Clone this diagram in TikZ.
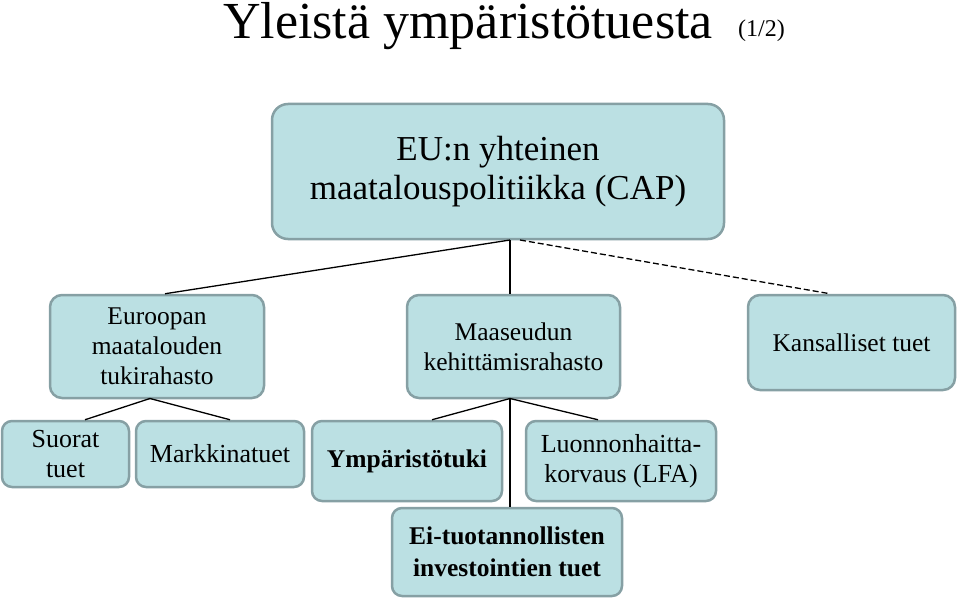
\documentclass[tikz,border=0pt]{standalone}
\usepackage{fontspec}
\setmainfont{Liberation Serif}
\begin{document}
\begin{tikzpicture}[x=1pt,y=-1pt,
  box/.style={draw=boxline, fill=boxfill, line width=2.5pt, rounded corners=12pt,
    inner sep=0pt, align=center, text=black},
  conn/.style={line width=1.3pt, black},
  mid/.style={font=\fontsize{25.5}{30}\selectfont},
  low/.style={font=\fontsize{26}{30}\selectfont},
  lowb/.style={font=\bfseries\fontsize{25.5}{32}\selectfont},
]
\definecolor{boxfill}{HTML}{BBE0E3}
\definecolor{boxline}{HTML}{86A0A4}
\useasboundingbox (0,0) rectangle (960,599);
\node[anchor=base west, font=\fontsize{52}{56}\selectfont, inner sep=0pt] (title) at (223,39) {Yleistä ympäristötuesta};
\node[anchor=base west, font=\fontsize{24}{28}\selectfont, inner sep=0pt] (pg) at (738,37) {(1/2)};

\node[box, rounded corners=16pt, minimum width=452pt, minimum height=135pt,
  font=\fontsize{35}{39}\selectfont] (cap) at (498,171.5) {EU:n yhteinen\\maatalouspolitiikka (CAP)};
\node[box, minimum width=214pt, minimum height=103pt, mid] (eu) at (157,346.5) {Euroopan\\maatalouden\\tukirahasto};
\node[box, minimum width=213pt, minimum height=103pt, mid] (ms) at (513.5,346.5) {Maaseudun\\kehittämisrahasto};
\node[box, minimum width=207pt, minimum height=95pt, mid] (ka) at (851.5,342.5) {Kansalliset tuet};

\node[box, rounded corners=10pt, minimum width=127pt, minimum height=66pt, low] (su) at (65.5,454) {Suorat\\tuet};
\node[box, rounded corners=10pt, minimum width=168pt, minimum height=66pt, low] (ma) at (220,454) {Markkinatuet};
\node[box, rounded corners=10pt, minimum width=190pt, minimum height=80pt, lowb] (ym) at (407,461) {Ympäristötuki};
\node[box, rounded corners=10pt, minimum width=190pt, minimum height=80pt, low] (lu) at (621,461) {Luonnonhaitta-\\korvaus (LFA)};
\node[box, rounded corners=10pt, minimum width=230pt, minimum height=88pt, lowb] (ei) at (507,552) {Ei-tuotannollisten\\investointien tuet};

\coordinate (capb) at (510,240);
\coordinate (capd) at (520,240);
\coordinate (eub) at (150,398.5);
\coordinate (msb) at (510,398.5);

\draw[conn] (capb) -- (eu.north -| 165,0);
\draw[conn] (capb) -- (capb |- ms.north);
\draw[conn, dash pattern=on 6pt off 3pt] (capd) -- (ka.north -| 830,0);
\draw[conn] (eub) -- (su.north -| 85,0);
\draw[conn] (eub) -- (ma.north -| 230,0);
\draw[conn] (msb) -- (ym.north -| 432,0);
\draw[conn] (msb) -- (lu.north -| 598,0);
\draw[conn] (msb) -- (msb |- ei.north);
\end{tikzpicture}
\end{document}
